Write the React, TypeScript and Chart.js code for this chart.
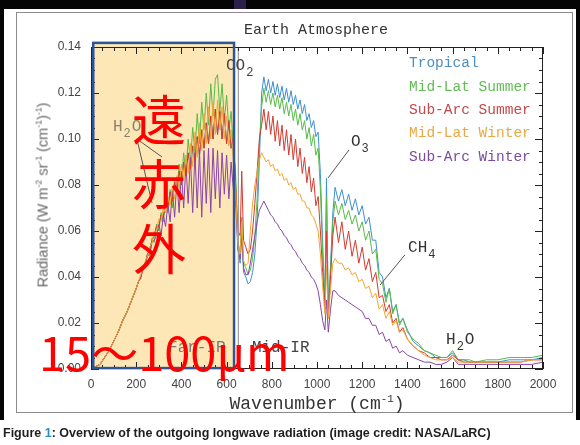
import React, { useEffect, useRef } from "react";
import { Chart, registerables } from "chart.js";
Chart.register(...registerables);

// ---------------- data ----------------
const wavenumbers = [
  0, 20, 40, 60, 80, 100, 120, 140, 160, 180, 200,
  210, 220, 230, 240, 250, 260, 270, 280, 290, 300,
  310, 320, 330, 340, 350, 360, 370, 380, 390, 400,
  410, 420, 430, 440, 450, 460, 470, 480, 490, 500,
  510, 520, 530, 540, 550, 560, 570, 580, 590, 600,
  610, 620, 630, 640,
  650, 660, 667, 675, 685, 695, 705, 715, 725, 735, 745,
  755, 765, 775, 785, 795, 805, 815, 825, 835, 845,
  855, 865, 875, 885, 895, 905, 915, 925, 935, 945,
  955, 965, 975, 985, 995, 1005, 1015, 1025, 1035, 1042,
  1050, 1060, 1070, 1080, 1095, 1110, 1125, 1140, 1155, 1170,
  1185, 1200, 1215, 1230, 1245, 1260, 1275, 1290, 1305, 1320,
  1335, 1350, 1365, 1380, 1400, 1425, 1450, 1475, 1500, 1525,
  1550, 1575, 1600, 1625, 1650, 1675, 1700, 1750, 1800, 1850,
  1900, 1950, 2000,
];

const tropical = [
  0, 0.001, 0.002, 0.005, 0.008, 0.012, 0.016, 0.021, 0.025, 0.030, 0.035,
  0.038, 0.040, 0.044, 0.046, 0.050, 0.052, 0.056, 0.058, 0.062, 0.062,
  0.067, 0.066, 0.072, 0.070, 0.077, 0.073, 0.081, 0.077, 0.086, 0.080,
  0.090, 0.084, 0.094, 0.087, 0.097, 0.090, 0.101, 0.093, 0.104, 0.096,
  0.107, 0.098, 0.110, 0.100, 0.113, 0.102, 0.112, 0.100, 0.111, 0.098,
  0.108, 0.096, 0.101, 0.080,
  0.052, 0.046, 0.060, 0.042, 0.040, 0.037, 0.038, 0.042, 0.050, 0.065, 0.090,
  0.120, 0.127, 0.121, 0.126, 0.120, 0.125, 0.119, 0.124, 0.118, 0.123,
  0.117, 0.122, 0.116, 0.121, 0.115, 0.119, 0.113, 0.117, 0.111, 0.115,
  0.108, 0.111, 0.105, 0.108, 0.101, 0.103, 0.085, 0.055, 0.030, 0.083,
  0.026, 0.045, 0.068, 0.079, 0.073, 0.078, 0.071, 0.076, 0.069, 0.074,
  0.067, 0.071, 0.063, 0.066, 0.056, 0.056, 0.042, 0.040, 0.031, 0.035,
  0.025, 0.028, 0.020, 0.022, 0.017, 0.012, 0.010, 0.008, 0.007, 0.005,
  0.005, 0.005, 0.007, 0.004, 0.004, 0.003, 0.003, 0.003, 0.003, 0.004,
  0.004, 0.004, 0.005,
];

const midLatSummer = [
  0, 0.001, 0.002, 0.005, 0.008, 0.012, 0.016, 0.021, 0.025, 0.030, 0.035,
  0.038, 0.039, 0.044, 0.046, 0.050, 0.049, 0.057, 0.055, 0.063, 0.060,
  0.068, 0.064, 0.073, 0.068, 0.078, 0.070, 0.083, 0.076, 0.089, 0.080,
  0.094, 0.085, 0.100, 0.090, 0.105, 0.094, 0.111, 0.098, 0.116, 0.104,
  0.120, 0.106, 0.124, 0.110, 0.126, 0.128, 0.112, 0.124, 0.108, 0.119,
  0.104, 0.112, 0.096, 0.085,
  0.056, 0.050, 0.066, 0.046, 0.044, 0.041, 0.043, 0.048, 0.058, 0.074, 0.098,
  0.114, 0.122, 0.116, 0.121, 0.115, 0.120, 0.114, 0.119, 0.113, 0.118,
  0.111, 0.116, 0.110, 0.115, 0.108, 0.113, 0.106, 0.111, 0.104, 0.108,
  0.100, 0.105, 0.097, 0.102, 0.093, 0.096, 0.078, 0.050, 0.028, 0.075,
  0.024, 0.042, 0.064, 0.073, 0.067, 0.072, 0.065, 0.069, 0.063, 0.067,
  0.060, 0.064, 0.056, 0.060, 0.050, 0.052, 0.039, 0.037, 0.029, 0.035,
  0.024, 0.028, 0.019, 0.022, 0.016, 0.013, 0.011, 0.008, 0.007, 0.006,
  0.005, 0.005, 0.008, 0.004, 0.004, 0.004, 0.003, 0.004, 0.004, 0.005,
  0.005, 0.005, 0.006,
];

const subArcSummer = [
  0, 0.001, 0.002, 0.005, 0.008, 0.012, 0.016, 0.021, 0.025, 0.030, 0.035,
  0.038, 0.040, 0.044, 0.046, 0.050, 0.052, 0.056, 0.058, 0.062, 0.062,
  0.067, 0.066, 0.072, 0.070, 0.077, 0.073, 0.081, 0.077, 0.086, 0.080,
  0.090, 0.084, 0.094, 0.087, 0.097, 0.090, 0.101, 0.093, 0.104, 0.096,
  0.107, 0.098, 0.110, 0.100, 0.113, 0.102, 0.112, 0.100, 0.111, 0.098,
  0.108, 0.096, 0.101, 0.080,
  0.060, 0.058, 0.086, 0.056, 0.053, 0.050, 0.052, 0.060, 0.072, 0.086, 0.100,
  0.106, 0.113, 0.104, 0.112, 0.102, 0.110, 0.099, 0.108, 0.097, 0.106,
  0.095, 0.104, 0.093, 0.102, 0.091, 0.100, 0.088, 0.096, 0.085, 0.092,
  0.081, 0.088, 0.077, 0.083, 0.071, 0.075, 0.060, 0.042, 0.026, 0.060,
  0.022, 0.040, 0.058, 0.066, 0.055, 0.064, 0.052, 0.060, 0.049, 0.056,
  0.046, 0.053, 0.043, 0.048, 0.038, 0.042, 0.031, 0.032, 0.025, 0.028,
  0.020, 0.022, 0.016, 0.018, 0.013, 0.010, 0.008, 0.007, 0.005, 0.005,
  0.004, 0.004, 0.006, 0.004, 0.003, 0.003, 0.003, 0.003, 0.003, 0.003,
  0.003, 0.004, 0.004,
];

const midLatWinter = [
  0, 0.001, 0.002, 0.005, 0.008, 0.012, 0.016, 0.021, 0.025, 0.030, 0.035,
  0.038, 0.041, 0.043, 0.047, 0.049, 0.053, 0.055, 0.060, 0.060, 0.065,
  0.064, 0.070, 0.068, 0.075, 0.071, 0.079, 0.074, 0.084, 0.078, 0.089,
  0.082, 0.093, 0.085, 0.098, 0.088, 0.103, 0.092, 0.107, 0.095, 0.111,
  0.098, 0.114, 0.100, 0.116, 0.102, 0.117, 0.104, 0.114, 0.100, 0.110,
  0.097, 0.104, 0.090, 0.078,
  0.054, 0.050, 0.064, 0.047, 0.045, 0.046, 0.060, 0.072, 0.080, 0.086, 0.091,
  0.094, 0.092, 0.090, 0.091, 0.088, 0.089, 0.086, 0.087, 0.084, 0.085,
  0.082, 0.083, 0.080, 0.081, 0.078, 0.079, 0.076, 0.076, 0.073, 0.073,
  0.070, 0.070, 0.067, 0.066, 0.063, 0.060, 0.050, 0.036, 0.024, 0.045,
  0.022, 0.035, 0.046, 0.048, 0.046, 0.046, 0.043, 0.044, 0.041, 0.042,
  0.038, 0.039, 0.035, 0.036, 0.031, 0.033, 0.026, 0.028, 0.022, 0.025,
  0.019, 0.021, 0.016, 0.017, 0.013, 0.010, 0.008, 0.006, 0.005, 0.004,
  0.004, 0.004, 0.005, 0.003, 0.003, 0.003, 0.003, 0.003, 0.003, 0.003,
  0.003, 0.004, 0.004,
];

const subArcWinter = [
  0, 0.001, 0.002, 0.005, 0.008, 0.012, 0.016, 0.021, 0.025, 0.030, 0.035,
  0.038, 0.040, 0.043, 0.045, 0.049, 0.050, 0.055, 0.056, 0.058, 0.063,
  0.058, 0.067, 0.062, 0.072, 0.064, 0.078, 0.066, 0.082, 0.068, 0.086,
  0.070, 0.089, 0.072, 0.092, 0.068, 0.094, 0.070, 0.095, 0.066, 0.095,
  0.072, 0.096, 0.068, 0.096, 0.074, 0.095, 0.070, 0.094, 0.076, 0.093,
  0.074, 0.090, 0.078, 0.072,
  0.052, 0.048, 0.058, 0.044, 0.041, 0.041, 0.046, 0.052, 0.058, 0.064, 0.069,
  0.071, 0.073, 0.071, 0.069, 0.067, 0.066, 0.064, 0.063, 0.061, 0.060,
  0.058, 0.057, 0.055, 0.054, 0.052, 0.051, 0.049, 0.048, 0.046, 0.045,
  0.043, 0.042, 0.040, 0.039, 0.037, 0.034, 0.028, 0.021, 0.017, 0.030,
  0.016, 0.026, 0.034, 0.034, 0.032, 0.031, 0.030, 0.029, 0.028, 0.027,
  0.026, 0.025, 0.022, 0.022, 0.019, 0.019, 0.015, 0.016, 0.012, 0.013,
  0.009, 0.010, 0.007, 0.008, 0.006, 0.005, 0.004, 0.003, 0.003, 0.002,
  0.002, 0.003, 0.005, 0.002, 0.002, 0.002, 0.002, 0.002, 0.002, 0.002,
  0.002, 0.002, 0.003,
];

const seriesNames = ["Tropical", "Mid-Lat Summer", "Sub-Arc Summer", "Mid-Lat Winter", "Sub-Arc Winter"];
const seriesValues = [tropical, midLatSummer, subArcSummer, midLatWinter, subArcWinter];
const lineColors = ["#3d8fd0", "#58ba48", "#d43a2e", "#f2a532", "#8a45a8"];
const legendColors = ["#4a90c4", "#62bc55", "#c24a48", "#e9a844", "#7c4c9c"];
const drawOrder = [5, 4, 2, 1, 3];

const xTickValues = [0, 200, 400, 600, 800, 1000, 1200, 1400, 1600, 1800, 2000];
const yTickValues = [0, 0.02, 0.04, 0.06, 0.08, 0.1, 0.12, 0.14];

// far-IR box (data units)
const farIRBox = { x0: 10, x1: 633, y0: 0.0004, y1: 0.1418 };
const bandEdge = 652;

type Seg = { t: string; sub?: boolean };
const chemLabels: { segs: Seg[]; x: number; y: number; color: string }[] = [
  { segs: [{ t: "CO" }, { t: "2", sub: true }], x: 597, y: 0.13, color: "#444" },
  { segs: [{ t: "H" }, { t: "2", sub: true }, { t: "O" }], x: 97, y: 0.1035, color: "#8b8168" },
  { segs: [{ t: "O" }, { t: "3", sub: true }], x: 1150, y: 0.097, color: "#333" },
  { segs: [{ t: "CH" }, { t: "4", sub: true }], x: 1403, y: 0.0509, color: "#333" },
  { segs: [{ t: "H" }, { t: "2", sub: true }, { t: "O" }], x: 1571, y: 0.0109, color: "#333" },
  { segs: [{ t: "Far-IR" }], x: 341, y: 0.0072, color: "#7a7a7a" },
  { segs: [{ t: "Mid-IR" }], x: 712, y: 0.0072, color: "#444" },
];
const pointerLines: number[][] = [
  [203, 0.1, 314, 0.0922],
  [203, 0.1, 270, 0.0722],
  [1142, 0.0953, 1049, 0.0831],
  [1389, 0.0496, 1279, 0.0365],
];

const MONO = '"Liberation Mono", "DejaVu Sans Mono", monospace';
const SANS = '"Liberation Sans", Arial, sans-serif';
const CJK = '"Noto Sans CJK JP", "Noto Sans CJK SC", sans-serif';

const decorPlugin = {
  id: "decor",
  beforeDatasetsDraw(chart: any) {
    const { ctx, scales } = chart;
    const x = scales.x, y = scales.y;
    ctx.save();
    ctx.fillStyle = "#fde7b7";
    const px0 = x.getPixelForValue(farIRBox.x0), px1 = x.getPixelForValue(farIRBox.x1);
    const py0 = y.getPixelForValue(farIRBox.y1), py1 = y.getPixelForValue(farIRBox.y0);
    ctx.fillRect(px0, py0, px1 - px0, py1 - py0);
    ctx.restore();
  },
  afterDatasetsDraw(chart: any) {
    const { ctx, scales, chartArea } = chart;
    const x = scales.x, y = scales.y;
    ctx.save();
    ctx.strokeStyle = "#9a9a9a";
    ctx.lineWidth = 1.2;
    const bx = x.getPixelForValue(bandEdge);
    ctx.beginPath();
    ctx.moveTo(bx, chartArea.top);
    ctx.lineTo(bx, chartArea.bottom);
    ctx.stroke();
    ctx.strokeStyle = "#222";
    ctx.lineWidth = 1;
    ctx.strokeRect(chartArea.left + 0.5, chartArea.top + 0.5, chartArea.right - chartArea.left - 1, chartArea.bottom - chartArea.top - 1);
    for (let v = 0; v <= 2000; v += 50) {
      const px = Math.round(x.getPixelForValue(v)) + 0.5;
      const len = v % 200 === 0 ? 7 : 4;
      ctx.beginPath();
      ctx.moveTo(px, chartArea.bottom);
      ctx.lineTo(px, chartArea.bottom - len);
      ctx.moveTo(px, chartArea.top);
      ctx.lineTo(px, chartArea.top + len);
      ctx.stroke();
    }
    for (let i = 0; i <= 28; i++) {
      const v = i * 0.005;
      const py = Math.round(y.getPixelForValue(v)) + 0.5;
      const len = i % 4 === 0 ? 8 : 4;
      ctx.beginPath();
      ctx.moveTo(chartArea.left, py);
      ctx.lineTo(chartArea.left + len, py);
      ctx.moveTo(chartArea.right, py);
      ctx.lineTo(chartArea.right - len, py);
      ctx.stroke();
    }
    ctx.strokeStyle = "#2f5597";
    ctx.lineWidth = 2.5;
    const px0 = x.getPixelForValue(farIRBox.x0), px1 = x.getPixelForValue(farIRBox.x1);
    const py0 = y.getPixelForValue(farIRBox.y1), py1 = y.getPixelForValue(farIRBox.y0);
    ctx.strokeRect(px0, py0, px1 - px0, py1 - py0);
    ctx.strokeStyle = "#555";
    ctx.lineWidth = 1;
    for (const [a, b, c, d] of pointerLines) {
      ctx.beginPath();
      ctx.moveTo(x.getPixelForValue(a), y.getPixelForValue(b));
      ctx.lineTo(x.getPixelForValue(c), y.getPixelForValue(d));
      ctx.stroke();
    }
    const size = 16;
    ctx.textBaseline = "alphabetic";
    ctx.textAlign = "left";
    for (const lab of chemLabels) {
      let cx = x.getPixelForValue(lab.x);
      const by = y.getPixelForValue(lab.y);
      ctx.fillStyle = lab.color;
      for (const s of lab.segs) {
        if (s.sub) {
          ctx.font = `${Math.round(size * 0.72)}px ${MONO}`;
          ctx.fillText(s.t, cx + 1, by + 6);
          cx += ctx.measureText(s.t).width + 2;
        } else {
          ctx.font = `${size}px ${MONO}`;
          ctx.fillText(s.t, cx, by);
          cx += ctx.measureText(s.t).width;
        }
      }
    }
    ctx.restore();
  },
};

const abs = (extra: React.CSSProperties): React.CSSProperties => ({
  position: "absolute",
  whiteSpace: "nowrap",
  lineHeight: 1,
  ...extra,
});

export default function App() {
  const canvasRef = useRef<HTMLCanvasElement | null>(null);

  useEffect(() => {
    if (!canvasRef.current) return;
    const datasets = seriesValues.map((vals, si) => ({
      label: seriesNames[si],
      data: wavenumbers.map((w, i) => ({ x: w, y: vals[i] })),
      borderColor: lineColors[si],
      backgroundColor: lineColors[si],
      borderWidth: 1,
      pointRadius: 0,
      tension: 0,
      fill: false,
      order: drawOrder[si],
    }));
    const chart = new Chart(canvasRef.current, {
      type: "line",
      data: { datasets },
      options: {
        animation: false,
        responsive: false,
        maintainAspectRatio: false,
        events: [],
        layout: { padding: { top: 47, right: 37, bottom: 46, left: 0 } },
        plugins: { legend: { display: false }, tooltip: { enabled: false }, title: { display: false } },
        scales: {
          x: {
            type: "linear",
            min: 0,
            max: 2000,
            afterBuildTicks: (s: any) => { s.ticks = xTickValues.map((v) => ({ value: v })); },
            ticks: { autoSkip: false, maxRotation: 0, padding: 8, color: "#444", font: { family: SANS, size: 12 }, callback: (v: any) => String(v) },
            grid: { display: false, drawTicks: false },
            border: { display: false },
            afterFit: (s: any) => { s.height = 30; },
          },
          y: {
            min: 0,
            max: 0.14,
            afterBuildTicks: (s: any) => { s.ticks = yTickValues.map((v) => ({ value: v })); },
            ticks: { padding: 10, color: "#444", font: { family: SANS, size: 12 }, callback: (v: any) => Number(v).toFixed(2) },
            grid: { display: false, drawTicks: false },
            border: { display: false },
            afterFit: (s: any) => { s.width = 91; },
          },
        },
      },
      plugins: [decorPlugin],
    } as any);
    return () => chart.destroy();
  }, []);

  const legendY = [63, 87, 110, 133, 157];
  const sup = { fontSize: "0.6em" };

  return (
    <div style={{ position: "fixed", left: 0, top: 0, width: 580, height: 445, background: "#fff", overflow: "hidden" }}>
      <div style={abs({ left: 0, top: 0, width: 580, height: 9, background: "#050505" })} />
      <div style={abs({ left: 234, top: 0, width: 12, height: 9, background: "#2b1f4d" })} />
      <div style={abs({ left: 0, top: 0, width: 4, height: 420, background: "#050505" })} />
      <div style={abs({ left: 576, top: 0, width: 4, height: 420, background: "#050505" })} />
      <div style={abs({ left: 16, top: 12, width: 555, height: 399, border: "1px solid #8c8c8c" })} />

      <canvas ref={canvasRef} width={580} height={445} style={{ position: "absolute", left: 0, top: 0, width: 580, height: 445 }} />

      <div style={abs({ left: 316, top: 30, transform: "translate(-50%,-50%)", font: `15px ${MONO}`, color: "#333" })}>Earth Atmosphere</div>

      {seriesNames.map((n, i) => (
        <div key={n} style={abs({ left: 409, top: legendY[i], transform: "translateY(-50%)", font: `14.5px ${MONO}`, color: legendColors[i] })}>{n}</div>
      ))}

      <div style={abs({ left: 42, top: 195, transform: "translate(-50%,-50%) rotate(-90deg)", font: `14.5px ${SANS}`, color: "#666" })}>
        Radiance (W m<sup style={sup}>-2</sup> sr<sup style={sup}>-1</sup> (cm<sup style={sup}>-1</sup>)<sup style={sup}>-1</sup>)
      </div>
      <div style={abs({ left: 317, top: 403, transform: "translate(-50%,-50%)", font: `18px ${MONO}`, color: "#333" })}>
        Wavenumber (cm<sup style={sup}>-1</sup>)
      </div>

      <div style={abs({ left: 159, top: 117, transform: "translate(-50%,-50%)", font: `54px ${CJK}`, color: "#ff0000" })}>遠</div>
      <div style={abs({ left: 159, top: 181, transform: "translate(-50%,-50%)", font: `54px ${CJK}`, color: "#ff0000" })}>赤</div>
      <div style={abs({ left: 159, top: 246, transform: "translate(-50%,-50%)", font: `54px ${CJK}`, color: "#ff0000" })}>外</div>
      <div style={abs({ left: 39, top: 350, transform: "translateY(-50%)", font: `47px ${CJK}`, color: "#ff0000" })}>15～100μm</div>

      <div style={abs({ left: 3, top: 433, transform: "translateY(-50%)", font: `bold 12.5px ${SANS}`, color: "#1e1e1e" })}>
        Figure <span style={{ color: "#2a90c2" }}>1</span>: Overview of the outgoing longwave radiation (image credit: NASA/LaRC)
      </div>
    </div>
  );
}
